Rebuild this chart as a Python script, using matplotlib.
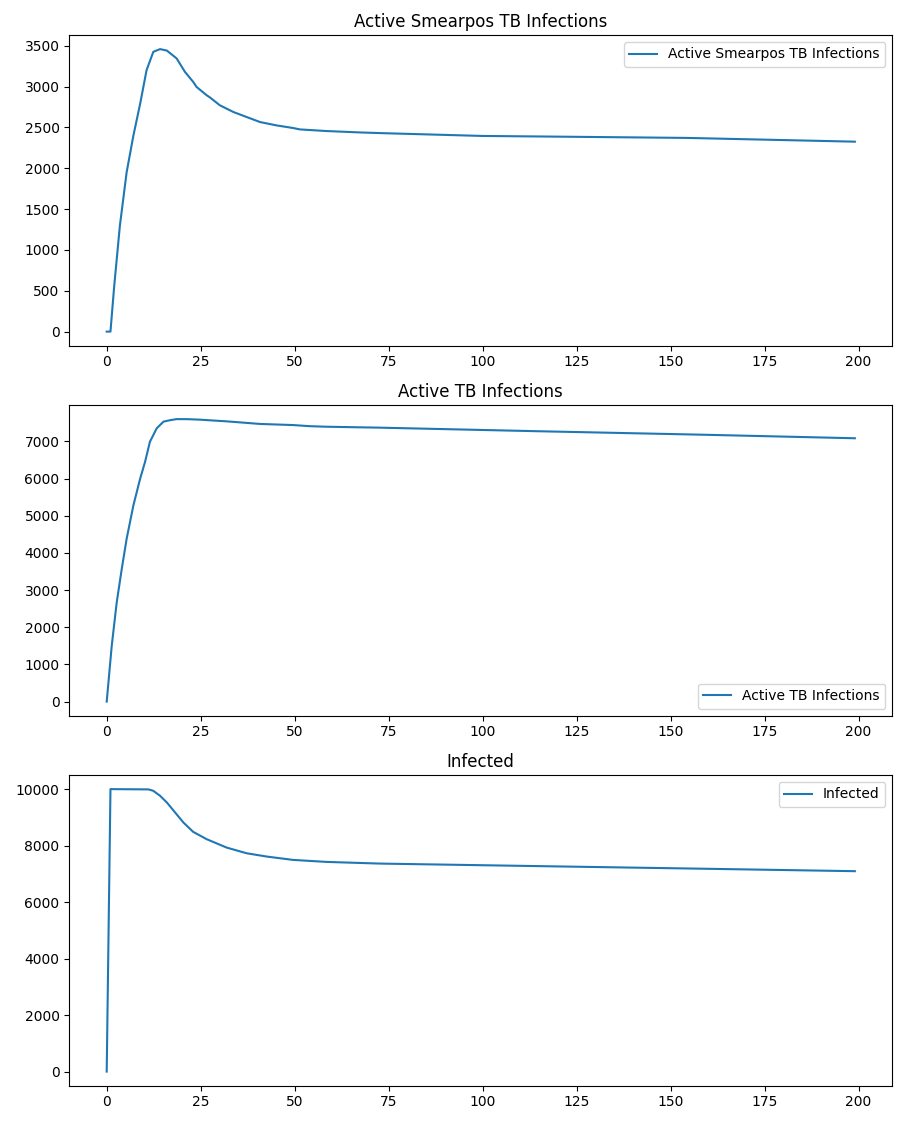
import matplotlib
matplotlib.use("Agg")
import matplotlib.pyplot as plt

# values (time step, count)
smear_t = [0, 1, 2, 3.5, 5.3, 7.1, 8.9, 10.6, 12.4, 14.2, 16, 18.6, 20.8, 23, 23.9,
           26.6, 27.5, 30.1, 33.7, 37.2, 40.8, 45.2, 49.6, 51.4, 58.5, 67.4, 72.7,
           100, 118.8, 154.3, 199]
smear_v = [0, 0, 560, 1295, 1950, 2400, 2790, 3200, 3425, 3458, 3440, 3344, 3180,
           3057, 2995, 2893, 2865, 2770, 2688, 2627, 2565, 2524, 2492, 2475, 2455,
           2438, 2430, 2395, 2387, 2371, 2325]

active_t = [0, 1.33, 2.66, 4, 5.3, 7.1, 8.9, 10.2, 11.5, 13.3, 15.1, 16.8, 18.6,
            21.7, 24.8, 31.9, 40.8, 49.6, 54, 58.5, 72.7, 114.3, 158.7, 199]
active_v = [0, 1495, 2667, 3568, 4379, 5280, 6000, 6450, 6992, 7352, 7532, 7570,
            7600, 7598, 7585, 7540, 7470, 7440, 7410, 7395, 7370, 7275, 7180, 7085]

inf_t = [0, 1, 11.1, 12.4, 14.2, 16, 18.2, 20.4, 23, 26.6, 31.9, 37.2, 42.6, 49.6,
         58.5, 72.7, 118.8, 158.7, 199]
inf_v = [0, 10000, 9990, 9940, 9763, 9527, 9172, 8818, 8487, 8227, 7931, 7730,
         7612, 7494, 7423, 7364, 7266, 7182, 7095]

fig, axs = plt.subplots(3, 1, figsize=(9, 11.25))
fig.subplots_adjust(left=0.077, right=0.9914, top=0.9689, bottom=0.0349, hspace=0.1907)

axs[0].plot(smear_t, smear_v, label='Active Smearpos TB Infections')
axs[0].set_title('Active Smearpos TB Infections')
axs[0].legend(loc='upper right')

axs[1].plot(active_t, active_v, label='Active TB Infections')
axs[1].set_title('Active TB Infections')
axs[1].legend(loc='lower right')

axs[2].plot(inf_t, inf_v, label='Infected')
axs[2].set_title('Infected')
axs[2].legend(loc='upper right')

plt.savefig('out.png', dpi=100)
